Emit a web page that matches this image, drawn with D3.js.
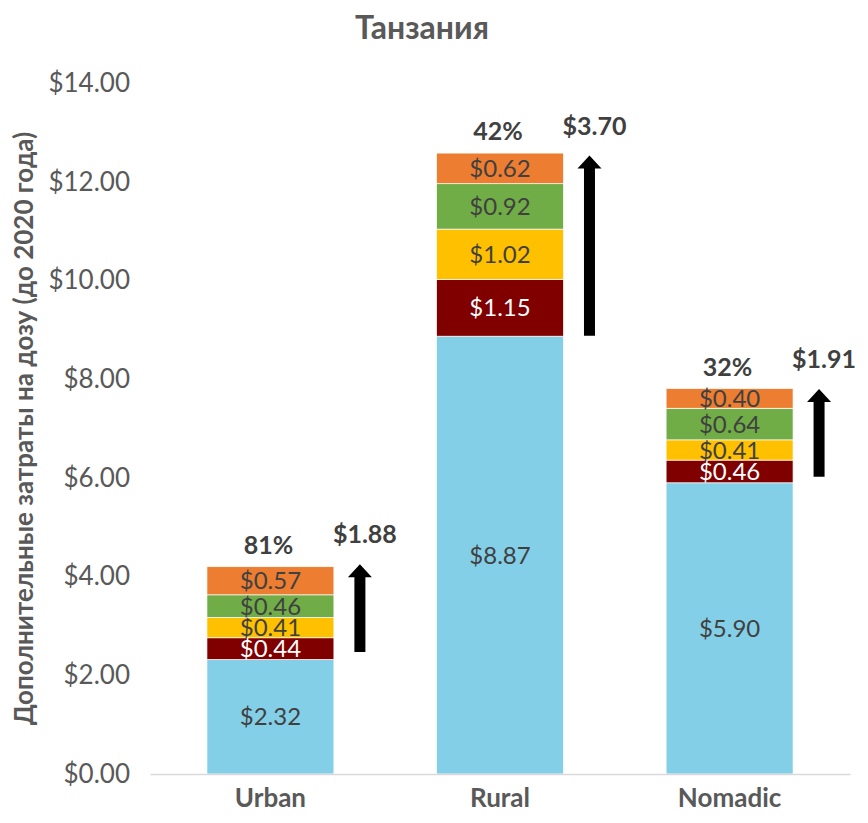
<!DOCTYPE html>
<html>
<head>
<meta charset="utf-8">
<script src="https://cdn.jsdelivr.net/npm/d3@7"></script>
<style>
  body { margin: 0; background: #fff; }
  text { font-family: Lato, "Open Sans", sans-serif; }
</style>
</head>
<body>
<div id="chart"></div>
<script>
const categories = ['Urban', 'Rural', 'Nomadic'];
const base = [2.32, 8.87, 5.90];
const darkRed = [0.44, 1.15, 0.46];
const yellow = [0.41, 1.02, 0.41];
const green = [0.46, 0.92, 0.64];
const orange = [0.57, 0.62, 0.40];
const percents = ['81%', '42%', '32%'];
const arrowLabels = ['$1.88', '$3.70', '$1.91'];
const arrowFrom = [2.47, 8.88, 6.02];
const arrowTo = [4.25, 12.53, 7.80];
const yTicks = [0, 2, 4, 6, 8, 10, 12, 14];

const seriesList = [
  { values: base, color: '#84cfe8', text: '#404040' },
  { values: darkRed, color: '#800000', text: '#ffffff' },
  { values: yellow, color: '#ffc000', text: '#404040' },
  { values: green, color: '#70ad47', text: '#404040' },
  { values: orange, color: '#ed7d31', text: '#404040' }
];

const width = 868;
const height = 823;

const svg = d3.select('#chart')
  .append('svg')
  .attr('width', width)
  .attr('height', height);

const x = d3.scaleBand()
  .domain(categories)
  .range([150, 850])
  .paddingInner(0.447)
  .paddingOuter(0.248);

const y = d3.scaleLinear()
  .domain([0, 14])
  .range([774, 83]);

// title
svg.append('text')
  .attr('x', 422)
  .attr('y', 39)
  .attr('text-anchor', 'middle')
  .attr('font-size', 32)
  .attr('font-weight', 'bold')
  .attr('fill', '#595959')
  .text('Танзания');

// y axis (labels only)
const yAxis = svg.append('g')
  .attr('transform', 'translate(140,0)')
  .call(d3.axisLeft(y).tickValues(yTicks).tickSize(0).tickPadding(10).tickFormat(d => '$' + d.toFixed(2)));
yAxis.select('.domain').remove();
yAxis.selectAll('text')
  .attr('font-size', 26)
  .attr('fill', '#595959')
  .style('font-family', 'Lato, sans-serif');

svg.append('text')
  .attr('transform', `translate(33,${y(7)}) rotate(-90)`)
  .attr('text-anchor', 'middle')
  .attr('font-size', 26)
  .attr('font-weight', 'bold')
  .attr('fill', '#595959')
  .text('Дополнительные затраты на дозу (до 2020 года)');

// stacked bars
let cum = categories.map(() => 0);
seriesList.forEach(s => {
  const rows = categories.map((c, i) => ({ c, v: s.values[i], y0: cum[i], y1: cum[i] + s.values[i] }));
  cum = rows.map(r => r.y1);
  const g = svg.append('g');
  g.selectAll('rect')
    .data(rows)
    .join('rect')
    .attr('x', d => x(d.c))
    .attr('width', x.bandwidth())
    .attr('y', d => y(d.y1))
    .attr('height', d => y(d.y0) - y(d.y1))
    .attr('fill', s.color)
    .attr('stroke', '#ffffff')
    .attr('stroke-width', 0.7);
  g.selectAll('text')
    .data(rows)
    .join('text')
    .attr('x', d => x(d.c) + x.bandwidth() / 2)
    .attr('y', d => (y(d.y0) + y(d.y1)) / 2)
    .attr('dy', '0.36em')
    .attr('text-anchor', 'middle')
    .attr('font-size', 24)
    .attr('fill', s.text)
    .text(d => '$' + d.v.toFixed(2));
});

// x axis
const xAxis = svg.append('g')
  .attr('transform', `translate(0,${y(0)})`)
  .call(d3.axisBottom(x).tickSize(0).tickPadding(15));
xAxis.select('.domain').attr('stroke', '#d9d9d9').attr('stroke-width', 1.3);
xAxis.selectAll('text')
  .attr('font-size', 26)
  .attr('font-weight', 'bold')
  .attr('fill', '#595959')
  .style('font-family', 'Lato, sans-serif');

// percent labels
svg.append('g')
  .selectAll('text')
  .data(categories)
  .join('text')
  .attr('x', d => x(d) + x.bandwidth() / 2 - 2)
  .attr('y', (d, i) => y(cum[i]) - 13)
  .attr('text-anchor', 'middle')
  .attr('font-size', 25)
  .attr('font-weight', 'bold')
  .attr('fill', '#404040')
  .text((d, i) => percents[i]);

// arrows
const arrowX = d => x(d) + x.bandwidth() + 26;
const arrows = svg.append('g');
categories.forEach((c, i) => {
  const ax = arrowX(c);
  const yb = y(arrowFrom[i]);
  const yt = y(arrowTo[i]);
  const head = 13;
  arrows.append('path')
    .attr('d', `M${ax - 5.5},${yb} L${ax - 5.5},${yt + head} L${ax - 12},${yt + head} L${ax},${yt} L${ax + 12},${yt + head} L${ax + 5.5},${yt + head} L${ax + 5.5},${yb} Z`)
    .attr('fill', '#000');
  arrows.append('text')
    .attr('x', ax + 5)
    .attr('y', yt - 21)
    .attr('text-anchor', 'middle')
    .attr('font-size', 25)
    .attr('font-weight', 'bold')
    .attr('fill', '#404040')
    .text(arrowLabels[i]);
});
</script>
</body>
</html>
